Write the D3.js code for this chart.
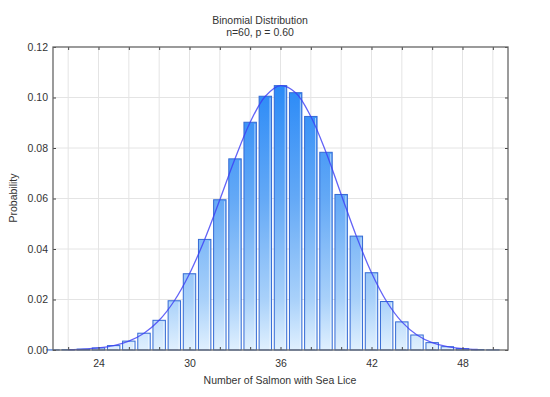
<!DOCTYPE html>
<html>
<head>
<meta charset="utf-8">
<script src="https://cdn.jsdelivr.net/npm/d3@7"></script>
<style>
  html, body { margin: 0; padding: 0; background: #fff; }
  svg { display: block; font-family: "Liberation Sans", Arial, sans-serif; }
  text { fill: #333; }
</style>
</head>
<body>
<svg id="chart" width="550" height="397"></svg>
<script>
// ---- data ----
const titleLines = ["Binomial Distribution", "n=60, p = 0.60"];
const xLabel = "Number of Salmon with Sea Lice";
const yLabel = "Probability";
const counts = [21, 22, 23, 24, 25, 26, 27, 28, 29, 30, 31, 32, 33, 34, 35,
                36, 37, 38, 39, 40, 41, 42, 43, 44, 45, 46, 47, 48, 49, 50];
const probabilities = [0.00005, 0.00014, 0.00035, 0.00081, 0.00174, 0.00352, 0.00665, 0.01176, 0.0195, 0.0302,
                       0.0438, 0.0595, 0.0757, 0.0902, 0.1005, 0.1047, 0.1019, 0.0925, 0.0783, 0.0616,
                       0.0451, 0.0306, 0.0192, 0.01114, 0.00594, 0.00291, 0.0013, 0.00053, 0.00019, 0.00006];
const curveCounts = [22, 23, 24, 25, 26, 27, 28, 29, 30, 31, 32, 33, 34, 35, 36,
                     37, 38, 39, 40, 41, 42, 43, 44, 45, 46, 47, 48, 49];
const xGridTicks = [22, 24, 26, 28, 30, 32, 34, 36, 38, 40, 42, 44, 46, 48, 50];
const xTickLabels = [24, 30, 36, 42, 48];
const yTicks = [0, 0.02, 0.04, 0.06, 0.08, 0.10, 0.12];

// ---- layout ----
const svg = d3.select("#chart");
const L = 53, R = 508, T = 47, B = 350;
const x = d3.scaleLinear().domain([21, 51]).range([L, R]);
const y = d3.scaleLinear().domain([0, 0.12]).range([B, T]);
const unit = x(1) - x(0);
const barW = unit * 0.82;

// gradient (global, along plot height)
const defs = svg.append("defs");
const grad = defs.append("linearGradient").attr("id", "barGrad")
  .attr("gradientUnits", "userSpaceOnUse")
  .attr("x1", 0).attr("x2", 0).attr("y1", y(0.105)).attr("y2", y(0));
[[0, "#2a8af7"], [0.43, "#64a9f6"], [0.81, "#a9d1fa"], [1, "#e0f0fe"]]
  .forEach(([o, c]) => grad.append("stop").attr("offset", o).attr("stop-color", c));

// gridlines
const grid = svg.append("g");
grid.selectAll("line.v").data(xGridTicks).join("line")
  .attr("x1", d => x(d)).attr("x2", d => x(d)).attr("y1", T).attr("y2", B)
  .attr("stroke", "#e4e4e4").attr("stroke-width", 1);
grid.selectAll("line.h").data(yTicks.slice(1, -1)).join("line")
  .attr("x1", L).attr("x2", R).attr("y1", d => y(d)).attr("y2", d => y(d))
  .attr("stroke", "#e4e4e4").attr("stroke-width", 1);

// bars
const data = counts.map((k, i) => ({ k, p: probabilities[i] }));
svg.append("g").selectAll("rect").data(data).join("rect")
  .attr("x", d => x(d.k) - barW / 2)
  .attr("width", barW)
  .attr("y", d => y(d.p))
  .attr("height", d => y(0) - y(d.p))
  .attr("fill", "url(#barGrad)")
  .attr("stroke", "#346ad4")
  .attr("stroke-width", 1);

// highlight on right edges
svg.append("g").selectAll("line").data(data.filter(d => y(0) - y(d.p) > 3)).join("line")
  .attr("x1", d => x(d.k) + barW / 2 - 1.5).attr("x2", d => x(d.k) + barW / 2 - 1.5)
  .attr("y1", d => y(d.p) + 1.5).attr("y2", B)
  .attr("stroke", "#ffffff").attr("stroke-opacity", 0.55).attr("stroke-width", 1);

// curve
const curveData = curveCounts.map(k => ({ k, p: probabilities[counts.indexOf(k)] }));
svg.append("path").datum(curveData)
  .attr("d", d3.line().x(d => x(d.k)).y(d => y(d.p)).curve(d3.curveCatmullRom.alpha(0.5)))
  .attr("fill", "none").attr("stroke", "#3c3cf5").attr("stroke-opacity", 0.8).attr("stroke-width", 1.3);

// axes
const fmtX = d => xTickLabels.includes(d) ? String(d) : "";
const axB = svg.append("g").attr("transform", `translate(0,${B})`)
  .call(d3.axisBottom(x).tickValues(xGridTicks).tickFormat(fmtX).tickSizeInner(-3).tickSizeOuter(0).tickPadding(9.5));
const axT = svg.append("g").attr("transform", `translate(0,${T})`)
  .call(d3.axisTop(x).tickValues(xGridTicks).tickFormat("").tickSizeInner(-3).tickSizeOuter(0));
const axL = svg.append("g").attr("transform", `translate(${L},0)`)
  .call(d3.axisLeft(y).tickValues(yTicks).tickFormat(d3.format(".2f")).tickSizeInner(-3).tickSizeOuter(0).tickPadding(5));
const axR = svg.append("g").attr("transform", `translate(${R},0)`)
  .call(d3.axisRight(y).tickValues(yTicks).tickFormat("").tickSizeInner(-3).tickSizeOuter(0));
[axB, axT, axL, axR].forEach(a => {
  a.select(".domain").remove();
  a.selectAll(".tick line").attr("stroke", "#444");
  a.selectAll("text").attr("font-size", "10.5px").attr("fill", "#333")
    .attr("font-family", '"Liberation Sans", Arial, sans-serif');
});

// frame
svg.append("rect").attr("x", L).attr("y", T).attr("width", R - L).attr("height", B - T)
  .attr("fill", "none").attr("stroke", "#666").attr("stroke-width", 1.3);

// titles
svg.append("text").attr("x", 260).attr("y", 24).attr("text-anchor", "middle")
  .attr("font-size", "10.5px").text(titleLines[0]);
svg.append("text").attr("x", 260).attr("y", 35.5).attr("text-anchor", "middle")
  .attr("font-size", "10.5px").text(titleLines[1]);
svg.append("text").attr("x", 280).attr("y", 384).attr("text-anchor", "middle")
  .attr("font-size", "10.5px").text(xLabel);
svg.append("text").attr("transform", `translate(17,198) rotate(-90)`).attr("text-anchor", "middle")
  .attr("font-size", "10.5px").text(yLabel);
</script>
</body>
</html>
